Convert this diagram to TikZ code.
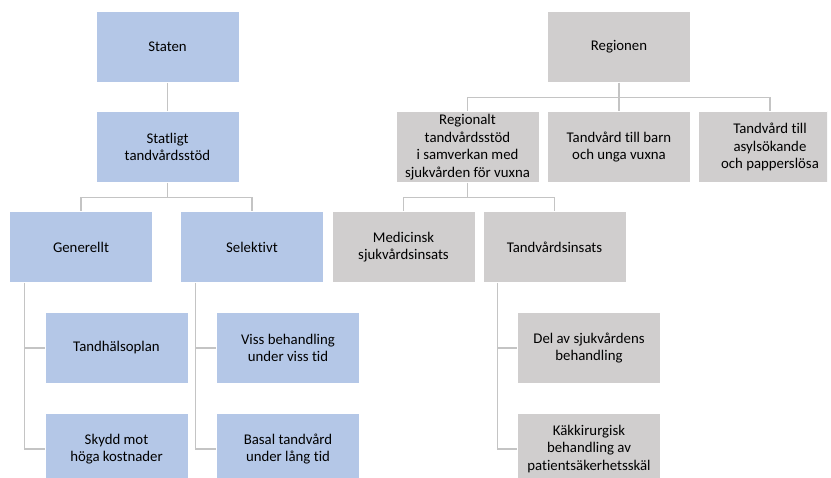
\documentclass[tikz,border=0pt]{standalone}
\usepackage{fontspec}
\setmainfont{Carlito}[Ligatures=NoCommon]
\usepackage{tikz}
\usetikzlibrary{calc}
\definecolor{stateblue}{RGB}{180,199,231}
\definecolor{regiongray}{RGB}{208,206,206}
\definecolor{linkgray}{RGB}{196,196,196}
\tikzset{
    orgbox/.style={rectangle, draw=white, line width=0.6pt, minimum width=143pt, minimum height=71pt,
        inner sep=2pt, align=center, font=\fontsize{14.8}{17.7}\selectfont},
    statebox/.style={orgbox, fill=stateblue},
    regionbox/.style={orgbox, fill=regiongray},
    link/.style={draw=linkgray, line width=1.4pt}
}

\begin{document}
\begin{tikzpicture}[x=1pt, y=-1pt]
    \useasboundingbox (0,0) rectangle (831,478);
    \clip (0,0) rectangle (827,478);

    % State side
    \node[statebox] (staten) at (167.5,47) {Staten};
    \node[statebox] (statligt) at (167.5,147) {Statligt\\tandvårdsstöd};
    \node[statebox] (generellt) at (81,247) {Generellt};
    \node[statebox] (selektivt) at (252,247) {Selektivt};
    \node[statebox] (halsoplan) at (116.5,348) {Tandhälsoplan};
    \node[statebox] (skydd) at (116.5,449) {Skydd mot\\höga kostnader};
    \node[statebox] (viss) at (288,348) {Viss behandling\\under viss tid};
    \node[statebox] (basal) at (288,449) {Basal tandvård\\under lång tid};

    % Region side
    \node[regionbox] (regionen) at (619,47) {Regionen};
    \node[regionbox] (regionalt) at (467.5,147) {Regionalt\\tandvårdsstöd\\i samverkan med\\sjukvården för vuxna};
    \node[regionbox] (barn) at (619,147) {Tandvård till barn\\och unga vuxna};
    \node[regionbox] (asyl) at (770,147) {Tandvård till\\asylsökande\\och papperslösa};
    \node[regionbox] (medicinsk) at (403.5,247) {Medicinsk\\sjukvårdsinsats};
    \node[regionbox] (insats) at (554.5,247) {Tandvårdsinsats};
    \node[regionbox] (sjukdel) at (589,348) {Del av sjukvårdens\\behandling};
    \node[regionbox] (kakkir) at (589,449) {Käkkirurgisk\\behandling av\\patientsäkerhetsskäl};

    % Tree links
    \draw[link] (staten) -- (statligt);
    \foreach \kid in {generellt,selektivt}
        \draw[link] (statligt.south) -- ++(0,15) -| (\kid.north);
    \draw[link] (regionen) -- (barn);
    \foreach \kid in {regionalt,asyl}
        \draw[link] (regionen.south) -- ++(0,14.5) -| (\kid.north);
    \foreach \kid in {medicinsk,insats}
        \draw[link] (regionalt.south) -- ++(0,15) -| (\kid.north);

    % Side branches
    \foreach \top/\kid in {generellt/halsoplan,generellt/skydd,selektivt/viss,selektivt/basal,insats/sjukdel,insats/kakkir}
        \draw[link] ($(\top.south west)+(15,0)$) |- (\kid.west);
\end{tikzpicture}
\end{document}
